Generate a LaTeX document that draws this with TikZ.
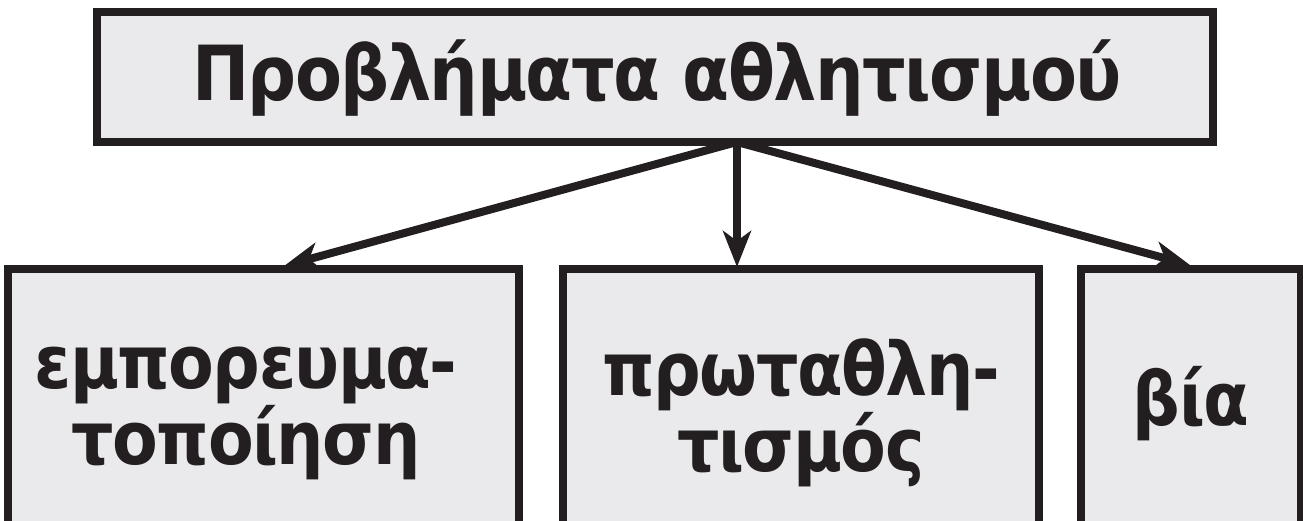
\documentclass[tikz,border=0pt]{standalone}
\usepackage{fontspec}
\setmainfont{DejaVu Sans Condensed}[LetterSpace=-2]
\usetikzlibrary{arrows.meta,calc}
\definecolor{ink}{HTML}{231F20}
\definecolor{paper}{HTML}{EAEAEC}
\tikzset{
  box/.style={draw=ink, fill=paper, line width=8pt, inner sep=0pt},
  lbl/.style={text=ink, font=\bfseries\fontsize{74}{76}\selectfont, align=center, inner sep=0pt},
  link/.style={draw=ink, line width=8pt, -{Stealth[length=36pt,width=28pt,inset=10pt]}}
}
\begin{document}
\begin{tikzpicture}[x=1pt,y=-1pt]
\useasboundingbox (0,0) rectangle (1303,520);
% top
\node[box, minimum width=1116, minimum height=130] (top) at (655,77) {};
\node[lbl, font=\bfseries\fontsize{76}{77}\selectfont] (toptxt) at (657,78) {Προβλήματα αθλητισμού};
% bottom row
\foreach \n/\x/\w in {emp/263.5/511, prot/801/476, bia/1191/220}
  \node[box, minimum width=\w, minimum height=257] (\n) at (\x,397.5) {};
\node[lbl] (emptxt) at (246,413) {εμπορευμα-\\τοποίηση};
\node[lbl] (prottxt) at (801,413) {πρωταθλη-\\τισμός};
\node[lbl] (biatxt) at (1191,404) {βία};
% arrows
\coordinate (apex) at (737,142);
\coordinate (tipemp) at (284,266);
\coordinate (tipprot) at (737,267);
\coordinate (tipbia) at (1190,265);
\draw[link] (apex) -- (tipemp);
\draw[link] (apex) -- (tipprot);
\draw[link] (apex) -- (tipbia);
\end{tikzpicture}
\end{document}
